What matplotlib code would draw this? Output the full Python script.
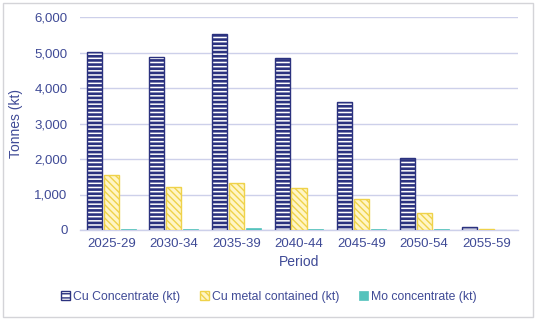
import numpy as np
import matplotlib.pyplot as plt
from matplotlib.patches import Rectangle

periods = ["2025-29", "2030-34", "2035-39", "2040-44", "2045-49", "2050-54", "2055-59"]
cu_conc = [5020, 4865, 5520, 4835, 3615, 2020, 95]
cu_metal = [1550, 1200, 1330, 1175, 865, 490, 20]
mo_conc = [40, 35, 60, 40, 35, 20, 3]

txt = "#3F4A96"
navy = "#2B327F"
yellow = "#EFD24A"
teal = "#55C3BC"
grid = "#CDD0EA"

plt.rcParams["font.family"] = ["Liberation Sans", "DejaVu Sans"]

fig = plt.figure(figsize=(5.38, 3.24), dpi=100)
ax = fig.add_axes([80 / 538, 1 - 230 / 324, 438 / 538, 213 / 324])

x = np.arange(len(periods))
w = 0.24
gap = 0.27
plt.rcParams["hatch.linewidth"] = 1.9
ax.bar(x - gap, cu_conc, w, facecolor="white", edgecolor=navy, hatch="----",
       linewidth=1.0, label="Cu Concentrate (kt)", zorder=3)
plt.rcParams["hatch.linewidth"] = 1.0
ax.bar(x, cu_metal, w, facecolor="#FFF5C6", edgecolor=yellow, hatch="\\\\\\\\\\",
       linewidth=1.0, label="Cu metal contained (kt)", zorder=3)
ax.bar(x + gap, mo_conc, w, facecolor=teal, edgecolor=teal,
       linewidth=0.5, label="Mo concentrate (kt)", zorder=3)

ax.set_xlim(-0.5, len(periods) - 0.5)
ax.set_ylim(0, 6000)
ax.set_yticks(np.arange(0, 6001, 1000))
ax.yaxis.set_major_formatter(plt.FuncFormatter(lambda v, p: f"{int(v):,}"))
ax.set_xticks(x)
ax.set_xticklabels(periods)
ax.grid(axis="y", color=grid, linewidth=1.0, zorder=0)
for s in ["top", "right", "left"]:
    ax.spines[s].set_visible(False)
ax.spines["bottom"].set_color(grid)
ax.spines["bottom"].set_linewidth(1.0)
ax.tick_params(axis="both", length=0, colors=txt, labelsize=9.5)
ax.tick_params(axis="y", pad=9)
ax.tick_params(axis="x", pad=6)

ax.set_ylabel("Tonnes (kt)", color=txt, fontsize=10, labelpad=8)
ax.set_xlabel("Period", color=txt, fontsize=10, labelpad=3)

leg = fig.legend(loc="center", bbox_to_anchor=(0.5, 1 - 297 / 324), ncol=3,
                 frameon=False, fontsize=8.8, handlelength=0.7, handleheight=0.7,
                 handletextpad=0.3, columnspacing=1.6, labelcolor=txt)

fig.add_artist(Rectangle((3 / 538, 7 / 324), 530 / 538, 314 / 324,
                         transform=fig.transFigure, fill=False,
                         edgecolor="#D4D4D8", linewidth=1.0))

fig.savefig("out.png", dpi=100)
